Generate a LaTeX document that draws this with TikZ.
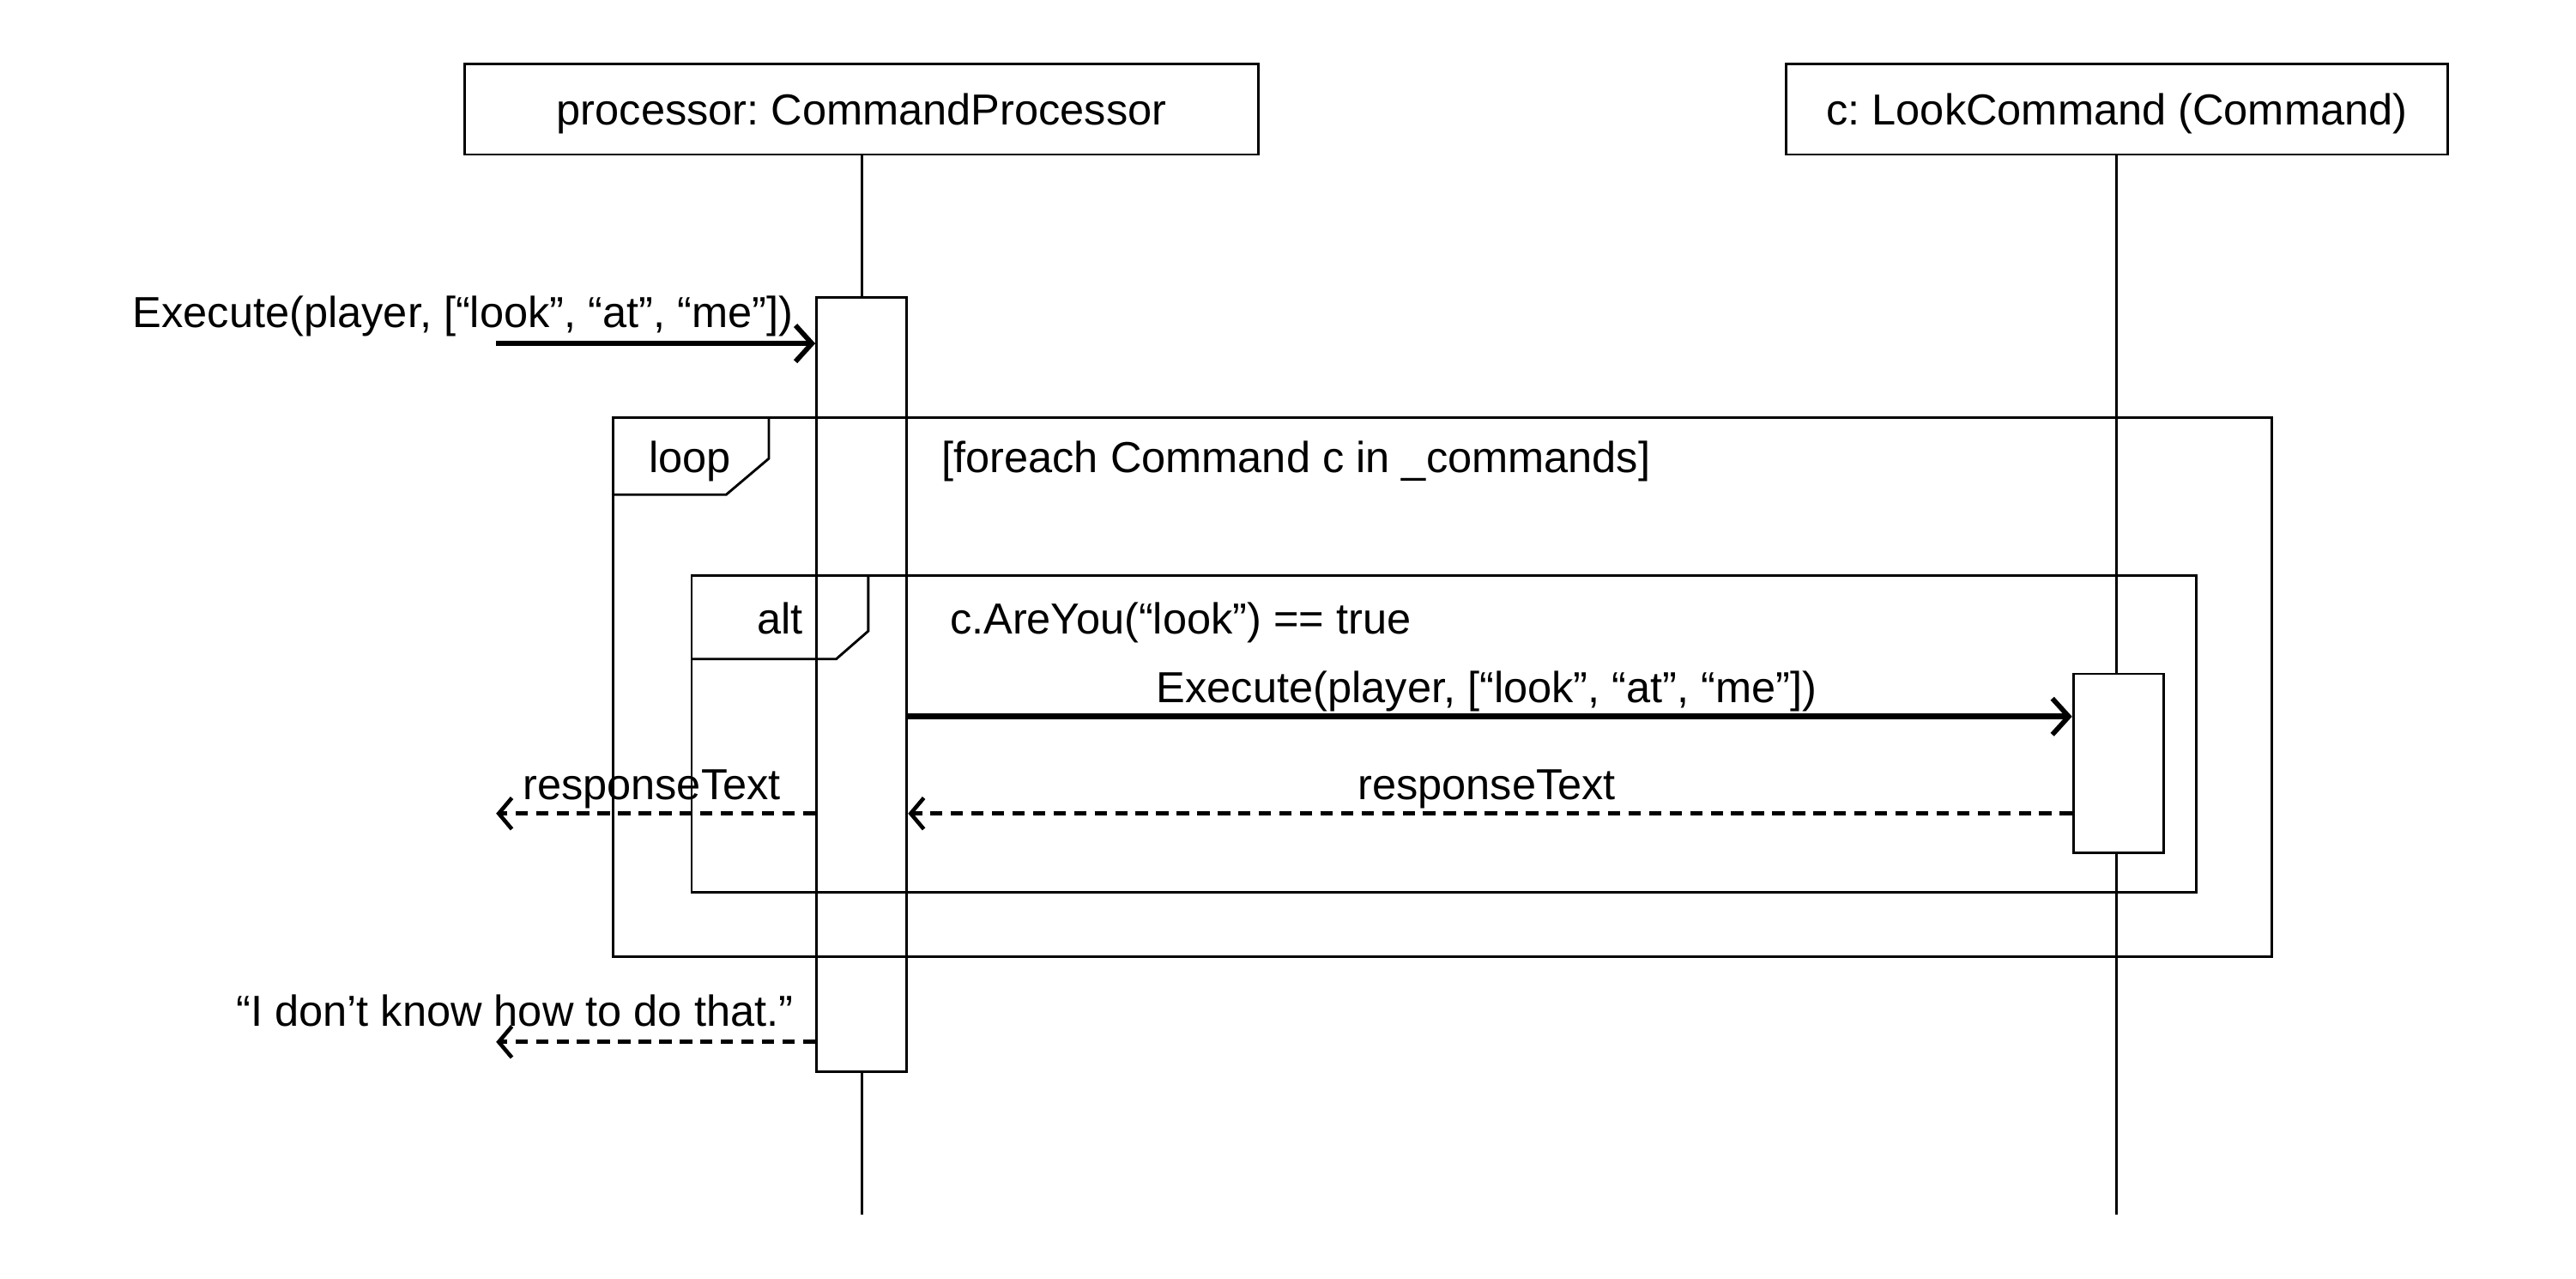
\documentclass[tikz,border=0pt]{standalone}
\usepackage{fontspec}
\setmainfont{Liberation Sans}
\usetikzlibrary{arrows.meta}
\frenchspacing
\begin{document}
\begin{tikzpicture}[x=1pt,y=-1pt,
  box/.style={draw,line width=1.5pt,fill=white,inner sep=0pt},
  txt/.style={font=\fontsize{26.4}{30}\selectfont,inner sep=0pt,text height=19pt,text depth=0pt},
  frame/.style={draw,line width=1.5pt},
  life/.style={line width=1.5pt},
  call/.style={line width=3.4pt,-{Straight Barb[length=10pt,width=22pt,line width=3pt]}},
  reply/.style={line width=2.6pt,dash pattern=on 7.5pt off 5pt,-{Straight Barb[length=8pt,width=19pt,line width=2.4pt]}},
]
\useasboundingbox (0,0) rectangle (1568,778);
% heads
\node[box,txt,minimum width=483pt,minimum height=55pt] (p) at (524.5,66.5) {processor: CommandProcessor};
\node[box,txt,minimum width=403pt,minimum height=55pt] (c) at (1288.5,66.5) {c: LookCommand (Command)};
\coordinate (pend) at (524.5,739);
\coordinate (cend) at (1288.5,739);
\draw[life] (p.south) -- (pend);
\draw[life] (c.south) -- (cend);
% activations
\node[box,minimum width=55pt,minimum height=471pt] (a1) at (524.5,416.5) {};
\node[box,minimum width=55pt,minimum height=109pt] (a2) at (1289.5,464.5) {};
% loop frame
\draw[frame] (373,254) rectangle (1383,582);
\draw[frame] (373,301) -- (442,301) -- (468,279) -- (468,254);
\node[txt] (looplbl) at (420,278) {loop};
\node[txt,anchor=west] (loopg) at (573,278) {[foreach Command c in \_commands]};
% alt frame
\draw[frame] (421,350) rectangle (1337,543);
\draw[frame] (421,401) -- (509,401) -- (528.5,384) -- (528.5,350);
\node[txt,anchor=east] (altlbl) at (489,376) {alt};
\node[txt,anchor=west] (altg) at (578,376) {c.AreYou(“look”) == true};
% messages
\coordinate (y1) at (0,209);
\coordinate (y2) at (0,436);
\coordinate (y3) at (0,495);
\coordinate (y4) at (0,634);
\coordinate (e1s) at (302,209);
\coordinate (r1e) at (302,495);
\coordinate (r2e) at (302,634);
\node[txt,anchor=east] (m1) at (483,190) {Execute(player, [“look”, “at”, “me”])};
\draw[call] (e1s) -- (a1.west |- y1);
\node[txt] (m2) at (905,418) {Execute(player, [“look”, “at”, “me”])};
\draw[call] (a1.east |- y2) -- (a2.west |- y2);
\node[txt] (m3) at (905,477) {responseText};
\draw[reply] (a2.west |- y3) -- (a1.east |- y3);
\node[txt,anchor=west] (m4) at (318,477) {responseText};
\draw[reply] (a1.west |- y3) -- (r1e);
\node[txt,anchor=east] (m5) at (483,615) {“I don’t know how to do that.”};
\draw[reply] (a1.west |- y4) -- (r2e);
\end{tikzpicture}
\end{document}
